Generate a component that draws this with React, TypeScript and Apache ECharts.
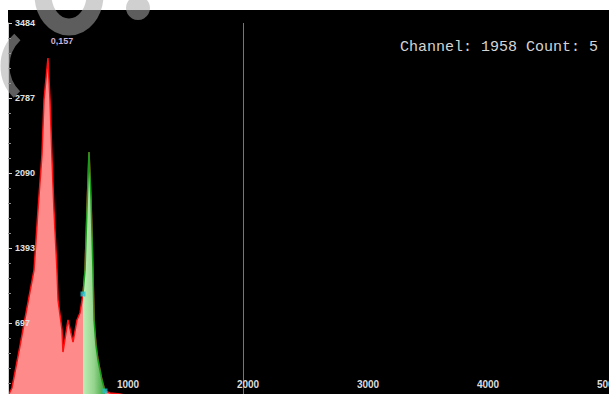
import { useEffect, useRef } from "react";
import * as echarts from "echarts";

// Spectrum: channel numbers and their counts
const channels = [
  0, 17, 33, 100, 158, 217, 250, 283, 300, 333,
  350, 367, 383, 408, 417, 450, 458, 500, 542, 575,
  600, 625, 642, 658, 675, 692, 708, 717, 733, 750,
  783, 808, 850, 933, 1000, 1200, 1500, 1958, 2500, 3500,
  4500, 5000,
];
const counts = [
  20, 56, 93, 483, 836, 1189, 1746, 2257, 2768, 3158,
  2768, 2211, 1746, 1189, 910, 632, 427, 725, 520, 725,
  790, 966, 1189, 1746, 2285, 1839, 1189, 725, 492, 353,
  167, 65, 46, 37, 20, 12, 8, 5, 3, 2,
  1, 0,
];

// Region of interest (channel bounds)
const roiStart = 625;
const roiEnd = 808;

// Cursor position
const cursorChannel = 1958;

// Axis ranges
const xMax = 5000;
const xStep = 1000;
const yMax = 3483.5;
const yDivisions = 5;

const peakLabel = "0,157";

export default function App() {
  const ref = useRef<HTMLDivElement>(null);

  useEffect(() => {
    if (!ref.current) return;
    const chart = echarts.init(ref.current, undefined, { renderer: "svg" });

    const spectrum = channels.map((c, i) => [c, counts[i]]);
    const roi = spectrum.filter(([c]) => c >= roiStart && c <= roiEnd);
    const roiEdges = [roi[0], roi[roi.length - 1]];
    const cursorIdx = channels.indexOf(cursorChannel);
    const cursorCount = cursorIdx >= 0 ? counts[cursorIdx] : 0;

    const watermark = "rgba(170,170,170,0.55)";

    chart.setOption({
      animation: false,
      backgroundColor: "#ffffff",
      grid: {
        left: 8,
        right: 1,
        top: 23,
        bottom: 6,
        containLabel: false,
        outerBoundsMode: "none",
      },
      xAxis: {
        type: "value",
        min: 0,
        max: xMax,
        interval: xStep,
        z: 10,
        axisLine: { show: true, lineStyle: { color: "#d0d0d0" } },
        axisTick: { show: true, inside: true, length: 4, lineStyle: { color: "#bbbbbb" } },
        minorTick: { show: true, splitNumber: 5, length: 2, lineStyle: { color: "#777777" } },
        splitLine: { show: false },
        axisLabel: {
          inside: true,
          margin: 9,
          showMinLabel: false,
          color: "#dcdcdc",
          fontSize: 10,
          fontWeight: "bold",
          fontFamily: "Liberation Sans",
          formatter: (v: number) => String(v),
        },
      },
      yAxis: {
        type: "value",
        min: 0,
        max: yMax,
        interval: yMax / yDivisions,
        z: 10,
        axisLine: { show: true, lineStyle: { color: "#d0d0d0" } },
        axisTick: { show: true, inside: true, length: 4, lineStyle: { color: "#d0d0d0" } },
        minorTick: { show: true, splitNumber: 5, length: 3, lineStyle: { color: "#8a8a8a" } },
        splitLine: { show: false },
        axisLabel: {
          inside: true,
          margin: 7,
          showMinLabel: false,
          color: "#e0e0e0",
          fontSize: 9,
          fontWeight: "bold",
          fontFamily: "Liberation Sans",
          formatter: (v: number) => String(Math.round(v)),
        },
      },
      series: [
        {
          name: "spectrum",
          type: "line",
          data: spectrum,
          showSymbol: false,
          symbol: "none",
          lineStyle: { color: "#ff1010", width: 1.5 },
          areaStyle: { color: "#ff8a8a", opacity: 1 },
          z: 2,
          markLine: {
            silent: true,
            symbol: ["none", "none"],
            label: { show: false },
            lineStyle: { color: "#767676", width: 1, type: "solid" },
            data: [{ xAxis: cursorChannel }],
          },
        },
        {
          name: "roi",
          type: "line",
          data: roi,
          showSymbol: false,
          symbol: "none",
          lineStyle: { color: "#1a9a1a", width: 1.5 },
          areaStyle: {
            opacity: 1,
            color: new echarts.graphic.LinearGradient(0, 0, 1, 0, [
              { offset: 0, color: "#bdeeb5" },
              { offset: 0.5, color: "#96d48e" },
              { offset: 1, color: "#3aa43a" },
            ]),
          },
          z: 3,
        },
        {
          name: "roi-edges",
          type: "scatter",
          data: roiEdges,
          symbol: "rect",
          symbolSize: 5,
          itemStyle: { color: "#22c4d4" },
          z: 5,
        },
      ],
      graphic: [
        {
          type: "rect",
          z: -10,
          silent: true,
          shape: { x: 8, y: 10, width: 601, height: 400 },
          style: { fill: "#000000" },
        },
        {
          type: "text",
          z: 50,
          silent: true,
          style: {
            x: 62,
            y: 41,
            text: peakLabel,
            fill: "#c9b3dc",
            font: "bold 9px 'Liberation Sans'",
            align: "center",
            textAlign: "center",
            verticalAlign: "middle",
            textVerticalAlign: "middle",
          },
        },
        {
          type: "text",
          z: 50,
          silent: true,
          style: {
            x: 598,
            y: 47,
            text: `Channel: ${cursorChannel} Count: ${cursorCount}`,
            fill: "#d4d4d4",
            font: "15px 'Liberation Mono'",
            align: "right",
            textAlign: "right",
            verticalAlign: "middle",
            textVerticalAlign: "middle",
          },
        },
        {
          type: "ellipse",
          z: 100,
          silent: true,
          shape: { cx: 69, cy: -5, rx: 26, ry: 32 },
          style: { fill: "none", stroke: watermark, lineWidth: 17 },
        },
        {
          type: "circle",
          z: 100,
          silent: true,
          shape: { cx: 138, cy: 8, r: 12 },
          style: { fill: watermark },
        },
        {
          type: "arc",
          z: 100,
          silent: true,
          shape: { cx: 45, cy: 66, r: 40, startAngle: 2.35, endAngle: 3.95 },
          style: { fill: "none", stroke: watermark, lineWidth: 9 },
        },
      ],
    });

    return () => chart.dispose();
  }, []);

  return (
    <div
      ref={ref}
      style={{ position: "fixed", left: 0, top: 0, width: 609, height: 404 }}
    />
  );
}
